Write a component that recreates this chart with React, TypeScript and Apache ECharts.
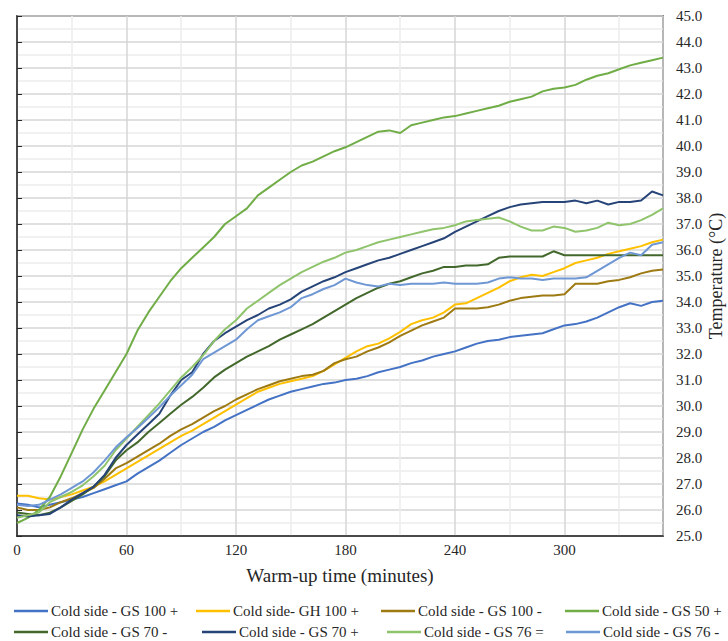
import React, { useEffect, useRef } from "react";
import * as echarts from "echarts";

const minutes = [0, 6, 12, 18, 24, 30, 36, 42, 48, 54, 60, 66, 72, 78, 84, 90, 96, 102, 108, 114, 120, 126, 132, 138, 144, 150, 156, 162, 168, 174, 180, 186, 192, 198, 204, 210, 216, 222, 228, 234, 240, 246, 252, 258, 264, 270, 276, 282, 288, 294, 300, 306, 312, 318, 324, 330, 336, 342, 348, 354];

const gs100Plus = [26.25, 26.2, 26.1, 26.2, 26.3, 26.4, 26.5, 26.65, 26.8, 26.95, 27.1, 27.4, 27.65, 27.9, 28.2, 28.5, 28.75, 29.0, 29.2, 29.45, 29.65, 29.85, 30.05, 30.25, 30.4, 30.55, 30.65, 30.75, 30.85, 30.9, 31.0, 31.05, 31.15, 31.3, 31.4, 31.5, 31.65, 31.75, 31.9, 32.0, 32.1, 32.25, 32.4, 32.5, 32.55, 32.65, 32.7, 32.75, 32.8, 32.95, 33.1, 33.15, 33.25, 33.4, 33.6, 33.8, 33.95, 33.85, 34.0, 34.05];
const gh100Plus = [26.55, 26.55, 26.45, 26.4, 26.5, 26.6, 26.75, 26.9, 27.1, 27.35, 27.6, 27.85, 28.1, 28.35, 28.6, 28.85, 29.05, 29.3, 29.55, 29.8, 30.05, 30.3, 30.55, 30.7, 30.85, 30.95, 31.05, 31.15, 31.35, 31.6, 31.85, 32.1, 32.3, 32.4, 32.6, 32.85, 33.15, 33.3, 33.4, 33.6, 33.9, 33.95, 34.15, 34.35, 34.55, 34.8, 34.95, 35.05, 35.0, 35.15, 35.3, 35.5, 35.6, 35.7, 35.85, 35.95, 36.05, 36.15, 36.3, 36.4];
const gs100Minus = [26.1, 26.0, 26.0, 26.1, 26.3, 26.45, 26.65, 26.85, 27.2, 27.6, 27.8, 28.05, 28.3, 28.55, 28.85, 29.1, 29.3, 29.55, 29.8, 30.0, 30.25, 30.45, 30.65, 30.8, 30.95, 31.05, 31.15, 31.2, 31.35, 31.65, 31.8, 31.9, 32.1, 32.25, 32.45, 32.7, 32.9, 33.1, 33.25, 33.4, 33.75, 33.75, 33.75, 33.8, 33.9, 34.05, 34.15, 34.2, 34.25, 34.25, 34.3, 34.7, 34.7, 34.7, 34.8, 34.85, 34.95, 35.1, 35.2, 35.25];
const gs50Plus = [25.5, 25.7, 26.0, 26.5, 27.3, 28.2, 29.1, 29.9, 30.6, 31.3, 32.0, 32.9, 33.6, 34.2, 34.8, 35.3, 35.7, 36.1, 36.5, 37.0, 37.3, 37.6, 38.1, 38.4, 38.7, 39.0, 39.25, 39.4, 39.6, 39.8, 39.95, 40.15, 40.35, 40.55, 40.6, 40.5, 40.8, 40.9, 41.0, 41.1, 41.15, 41.25, 41.35, 41.45, 41.55, 41.7, 41.8, 41.9, 42.1, 42.2, 42.25, 42.35, 42.55, 42.7, 42.8, 42.95, 43.1, 43.2, 43.3, 43.4];
const gs70Minus = [25.9, 25.85, 25.8, 25.9, 26.1, 26.35, 26.6, 26.9, 27.3, 27.9, 28.3, 28.6, 29.0, 29.35, 29.7, 30.05, 30.35, 30.7, 31.1, 31.4, 31.65, 31.9, 32.1, 32.3, 32.55, 32.75, 32.95, 33.15, 33.4, 33.65, 33.9, 34.15, 34.35, 34.55, 34.7, 34.8, 34.95, 35.1, 35.2, 35.35, 35.35, 35.4, 35.4, 35.45, 35.7, 35.75, 35.75, 35.75, 35.75, 35.95, 35.8, 35.8, 35.8, 35.8, 35.8, 35.8, 35.8, 35.8, 35.8, 35.8];
const gs70Plus = [25.8, 25.75, 25.8, 25.85, 26.1, 26.4, 26.65, 26.9, 27.35, 28.0, 28.5, 28.9, 29.3, 29.7, 30.4, 31.0, 31.3, 32.0, 32.5, 32.8, 33.05, 33.3, 33.5, 33.75, 33.9, 34.1, 34.4, 34.6, 34.8, 34.95, 35.15, 35.3, 35.45, 35.6, 35.7, 35.85, 36.0, 36.15, 36.3, 36.45, 36.7, 36.9, 37.1, 37.3, 37.5, 37.65, 37.75, 37.8, 37.85, 37.85, 37.85, 37.9, 37.8, 37.9, 37.75, 37.85, 37.85, 37.9, 38.25, 38.1];
const gs76Equal = [25.7, 25.8, 25.9, 26.3, 26.5, 26.7, 26.95, 27.3, 27.7, 28.3, 28.75, 29.2, 29.65, 30.1, 30.6, 31.1, 31.5, 31.95, 32.5, 32.95, 33.3, 33.75, 34.05, 34.35, 34.65, 34.9, 35.15, 35.35, 35.55, 35.7, 35.9, 36.0, 36.15, 36.3, 36.4, 36.5, 36.6, 36.7, 36.8, 36.85, 36.95, 37.1, 37.15, 37.2, 37.25, 37.1, 36.9, 36.75, 36.75, 36.9, 36.85, 36.7, 36.75, 36.85, 37.05, 36.95, 37.0, 37.15, 37.35, 37.6];
const gs76Minus = [26.2, 26.15, 26.2, 26.4, 26.6, 26.85, 27.1, 27.45, 27.9, 28.4, 28.8, 29.15, 29.55, 29.95, 30.4, 30.8, 31.2, 31.8, 32.05, 32.3, 32.55, 32.95, 33.3, 33.45, 33.6, 33.8, 34.15, 34.3, 34.5, 34.65, 34.9, 34.75, 34.65, 34.6, 34.7, 34.65, 34.7, 34.7, 34.7, 34.75, 34.7, 34.7, 34.7, 34.75, 34.9, 34.95, 34.9, 34.9, 34.85, 34.9, 34.9, 34.9, 34.95, 35.2, 35.45, 35.7, 35.9, 35.8, 36.2, 36.3];

const seriesNames = [
  "Cold side - GS 100 +",
  "Cold side- GH 100 +",
  "Cold side - GS 100 -",
  "Cold side - GS 50 +",
  "Cold side - GS 70 -",
  "Cold side - GS 70 +",
  "Cold side - GS 76 =",
  "Cold side - GS 76 -",
];
const seriesValues = [gs100Plus, gh100Plus, gs100Minus, gs50Plus, gs70Minus, gs70Plus, gs76Equal, gs76Minus];
const seriesColors = ["#4472C4", "#FFC000", "#9E7A12", "#70AD47", "#43682B", "#264478", "#8FC46C", "#6E97D4"];

const legendPos = [
  [14, 611], [196, 611], [381, 611], [565, 611],
  [14, 632], [202, 632], [387, 632], [566, 632],
];

const yAxisTitle = "Temperature (°C)";
const FONT = "Liberation Serif";
const TXT = "#262626";

export default function App() {
  const ref = useRef<HTMLDivElement>(null);
  useEffect(() => {
    if (!ref.current) return;
    const chart = echarts.init(ref.current, undefined, { renderer: "svg" });
    const legendTexts = seriesNames.map((n, i) => ({
      type: "text",
      x: legendPos[i][0] + 37,
      y: legendPos[i][1],
      silent: true,
      style: {
        text: n,
        fontFamily: FONT,
        fontSize: 15,
        fill: TXT,
        verticalAlign: "middle",
        align: "left",
      },
    }));
    const option = {
      animation: false,
      backgroundColor: "#ffffff",
      textStyle: { fontFamily: FONT },
      grid: {
        left: 17, top: 16, right: 65, bottom: 105,
        outerBoundsMode: "none",
        containLabel: false,
        show: true, borderColor: TXT, borderWidth: 1.5, backgroundColor: "transparent",
      },
      legend: seriesNames.map((n, i) => ({
        data: [n],
        left: legendPos[i][0],
        top: legendPos[i][1] - 1.25,
        icon: "rect",
        itemWidth: 34,
        itemHeight: 2.5,
        padding: 0,
        formatter: () => "",
        textStyle: { fontSize: 1 },
      })),
      graphic: [
        ...legendTexts,
        {
          type: "text",
          x: 716,
          y: 276,
          rotation: Math.PI / 2,
          silent: true,
          style: {
            text: yAxisTitle,
            fontFamily: FONT,
            fontSize: 18,
            fill: TXT,
            align: "center",
            verticalAlign: "middle",
          },
        },
      ],
      xAxis: {
        type: "value",
        min: 0,
        max: 354,
        interval: 60,
        name: "Warm-up time (minutes)",
        nameLocation: "middle",
        nameGap: 30,
        nameTextStyle: { fontFamily: FONT, fontSize: 19, color: TXT },
        axisLine: { show: true, lineStyle: { color: TXT, width: 1.5 } },
        axisTick: { show: false },
        axisLabel: {
          fontFamily: FONT,
          fontSize: 15,
          color: TXT,
          margin: 6,
          showMaxLabel: false,
          formatter: (v: number) => (v % 60 === 0 ? String(v) : ""),
        },
        splitLine: { show: true, lineStyle: { color: "#d6d6d6", width: 1.5 } },
        minorTick: { show: false, splitNumber: 2 },
        minorSplitLine: { show: true, lineStyle: { color: "#ededed", width: 1.5 } },
      },
      yAxis: {
        type: "value",
        position: "right",
        min: 25,
        max: 45,
        interval: 1,
        axisLine: { show: true, lineStyle: { color: TXT, width: 1.5 } },
        axisTick: { show: true, length: 5, lineStyle: { color: TXT } },
        axisLabel: {
          fontFamily: FONT,
          fontSize: 15,
          color: TXT,
          margin: 13,
          formatter: (v: number) => v.toFixed(1),
        },
        splitLine: { show: true, lineStyle: { color: "#d6d6d6", width: 1.5 } },
        minorTick: { show: false, splitNumber: 2 },
        minorSplitLine: { show: true, lineStyle: { color: "#ededed", width: 1.5 } },
      },
      series: seriesNames.map((n, i) => ({
        name: n,
        type: "line",
        symbol: "none",
        showSymbol: false,
        color: seriesColors[i],
        lineStyle: { width: 2, color: seriesColors[i] },
        data: minutes.map((t, j) => [t, seriesValues[i][j]]),
      })),
    };
    chart.setOption(option as any);
    return () => chart.dispose();
  }, []);
  return (
    <div
      ref={ref}
      style={{ position: "fixed", left: 0, top: 0, width: 728, height: 641, background: "#fff" }}
    />
  );
}
